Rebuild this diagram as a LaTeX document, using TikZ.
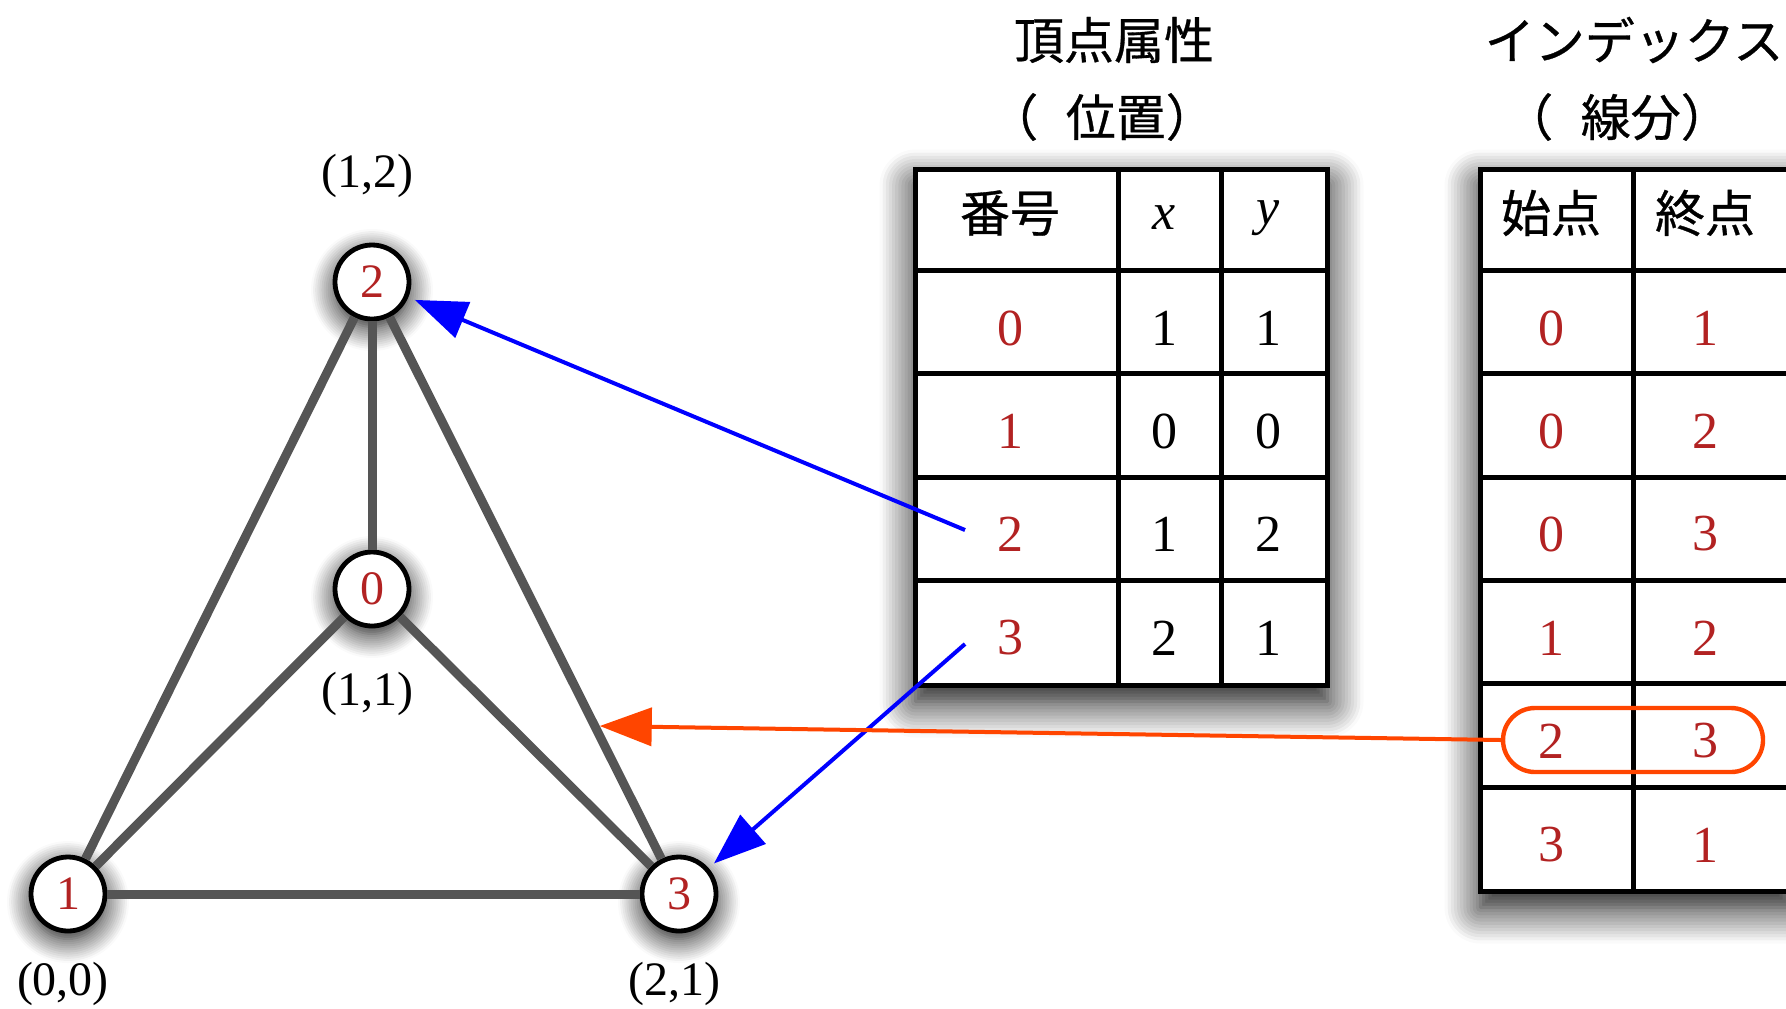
\documentclass[tikz,border=0pt]{standalone}
\usepackage{fontspec}
\setmainfont{Liberation Serif}
\newfontfamily\jpfont[FakeBold=0.6]{Noto Sans CJK JP}
\usepackage{tikz}
\usetikzlibrary{arrows.meta,positioning,calc,shadows.blur}
\definecolor{idred}{RGB}{178,34,34}
\definecolor{edgegray}{RGB}{85,85,85}
\definecolor{ptrblue}{RGB}{0,0,255}
\definecolor{selorange}{RGB}{255,69,0}

\begin{document}
\begin{tikzpicture}[x=0.5pt, y=-0.5pt,
  vtx/.style={circle, draw=black, line width=2.4pt, fill=white, minimum size=37pt, inner sep=0pt,
              text=idred, font=\fontsize{24}{28}\selectfont,
              blur shadow={shadow xshift=0pt, shadow yshift=-4pt, shadow blur radius=12pt,
                           shadow blur steps=12, shadow opacity=95}},
  coordlbl/.style={inner sep=0pt, font=\fontsize{24}{28}\selectfont},
  seg/.style={line width=4.5pt, edgegray},
  tbl/.style={draw=black, line width=2.5pt, fill=white, anchor=north west, inner sep=0pt,
              blur shadow={shadow xshift=0pt, shadow yshift=-8pt, shadow blur radius=18pt,
                           shadow blur steps=12, shadow opacity=100}},
  gridline/.style={line width=2.5pt, black},
  title/.style={font=\jpfont\fontsize{25}{30}\selectfont, inner sep=0pt},
  hdr/.style={font=\jpfont\fontsize{25}{30}\selectfont, inner sep=0pt},
  idx/.style={text=idred, font=\fontsize{26}{30}\selectfont, inner sep=0pt},
  val/.style={font=\fontsize{26}{30}\selectfont, inner sep=0pt},
  ptr/.style={-{Triangle[length=26pt,width=19pt]}, line width=2pt, ptrblue, shorten >=3.5pt},
  sel/.style={draw=selorange, line width=2.2pt, rounded corners=16pt, minimum width=130pt,
              minimum height=32pt, inner sep=0pt},
  selarr/.style={-{Triangle[length=26pt,width=19pt]}, line width=2pt, selorange}
]
  \useasboundingbox (0,0) rectangle (1786,1008);

  % mesh
  \node[vtx] (n0) at (372,589) {0};
  \node[vtx] (n1) at (68,894) {1};
  \node[vtx] (n2) at (372,282) {2};
  \node[vtx] (n3) at (679,894) {3};
  \foreach \a/\b in {n2/n1, n2/n0, n2/n3, n0/n1, n0/n3, n1/n3}
    \draw[seg] (\a) -- (\b);
  \node[coordlbl, above=22pt of n2, xshift=-2.5pt] (p2) {(1,2)};
  \node[coordlbl, below=21.5pt of n0, xshift=-2.5pt] (p0) {(1,1)};
  \node[coordlbl, below=14pt of n1, xshift=-2.5pt] (p1) {(0,0)};
  \node[coordlbl, below=14pt of n3, xshift=-2.5pt] (p3) {(2,1)};

  % vertex table
  \node[title] (h1) at (1114,40) {頂点属性};
  \node[title] (h1b) at (1102,117) {（\hspace{0.55em}位置）};
  \node[tbl, minimum width=206pt, minimum height=258pt] (tab1) at (913,167) {};
  \foreach \y in {270,373,477,580}
    \draw[gridline] (913,\y) -- (1325,\y);
  \foreach \x in {1118,1221}
    \draw[gridline] (\x,167) -- (\x,683);
  \node[hdr] (cn) at (1010,213) {番号};
  \node[val] (cx) at (1164,218) {\textit{x}};
  \node[val] (cy) at (1268,218) {\textit{y}};
  \foreach \i/\px/\py/\y in {0/1/1/328,1/0/0/431,2/1/2/534,3/2/1/638} {
    \node[idx] (v\i) at (1010,\y) {\i};
    \node[val] (x\i) at (1164,\y) {\px};
    \node[val] (y\i) at (1268,\y) {\py};
  }

  % index table
  \node[title] (h2) at (1634,40) {インデックス};
  \node[title] (h2b) at (1617,117) {（\hspace{0.55em}線分）};
  \node[tbl, minimum width=155pt, minimum height=361pt] (tab2) at (1478,167) {};
  \foreach \y in {270,373,477,580,683,787}
    \draw[gridline] (1478,\y) -- (1788,\y);
  \draw[gridline] (1633,167) -- (1633,890);
  \node[hdr] (cs) at (1551,213) {始点};
  \node[hdr] (ce) at (1705,213) {終点};
  \foreach \s/\e/\y [count=\k from 0] in {0/1/328,0/2/431,0/3/534,1/2/638,2/3/741,3/1/845} {
    \node[idx] (s\k) at (1551,\y) {\s};
    \node[idx] (e\k) at (1705,\y) {\e};
  }
  \node[sel] (pick) at (1633,740) {};

  % pointers
  \coordinate (hit) at ($(n2)!0.7255!(n3)+(5,0)$);
  \draw[ptr] ([xshift=-22.5pt,yshift=2pt]v2.center) -- (n2);
  \draw[ptr] ([xshift=-22.5pt,yshift=-3pt]v3.center) -- (n3);
  \draw[selarr] (pick.west) -- (hit);
\end{tikzpicture}
\end{document}
